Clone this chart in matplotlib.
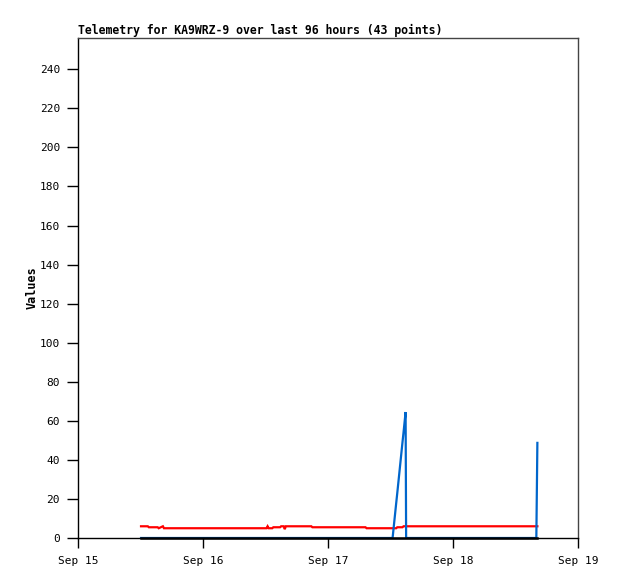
import datetime as dt
import matplotlib
matplotlib.use('Agg')
import matplotlib.pyplot as plt
import matplotlib.dates as mdates

plt.rcParams['font.family'] = ['DejaVu Sans Mono']
plt.rcParams['font.size'] = 8

# hours after Sep 15 00:00 for each of the 43 telemetry packets
hours = [12.1, 13.4, 13.6, 15.3, 15.5, 16.3, 16.5, 20.0, 24.0, 28.0,
         32.0, 36.2, 36.4, 36.6, 37.3, 37.5, 38.8, 39.0, 39.5, 39.7,
         39.9, 44.8, 45.0, 48.0, 52.0, 55.2, 55.4, 58.0, 60.4, 61.1,
         61.3, 62.3, 62.5, 62.9, 63.0, 66.0, 70.0, 74.0, 78.0, 82.0,
         86.0, 88.0, 88.2]

ch_red = [6.0, 6.0, 5.5, 5.5, 5.0, 6.0, 5.0, 5.0, 5.0, 5.0,
          5.0, 5.0, 6.0, 5.0, 5.0, 5.5, 5.5, 6.0, 6.0, 4.5,
          6.0, 6.0, 5.5, 5.5, 5.5, 5.5, 5.0, 5.0, 5.0, 5.0,
          5.5, 5.5, 6.0, 6.0, 6.0, 6.0, 6.0, 6.0, 6.0, 6.0,
          6.0, 6.0, 6.0]

ch_blue = [0, 0, 0, 0, 0, 0, 0, 0, 0, 0,
           0, 0, 0, 0, 0, 0, 0, 0, 0, 0,
           0, 0, 0, 0, 0, 0, 0, 0, 0, 18,
           23, 49, 54, 64.5, 0, 0, 0, 0, 0, 0,
           0, 0, 48.7]

ch_black = [0] * len(hours)

start = dt.datetime(2024, 9, 15)
times = [start + dt.timedelta(hours=h) for h in hours]

fig = plt.figure(figsize=(6.18, 5.79), dpi=100)
ax = fig.add_axes([78 / 618, 41 / 579, 500 / 618, 500 / 579])

ax.plot(times, ch_red, color='#ff0000', lw=1.6, solid_joinstyle='miter', zorder=3)
ax.plot(times, ch_blue, color='#0066cc', lw=1.6, solid_joinstyle='miter', zorder=4)
ax.plot(times, ch_black, color='black', lw=1.8, zorder=5, clip_on=False)

ax.set_xlim(start, start + dt.timedelta(days=4))
ax.set_ylim(0, 256)
ax.set_yticks(range(0, 241, 20))
ax.xaxis.set_major_locator(mdates.DayLocator())
ax.xaxis.set_major_formatter(mdates.DateFormatter('%b %d'))

for s in ['top', 'right']:
    ax.spines[s].set_color('#444444')
for s in ['left', 'bottom']:
    ax.spines[s].set_color('black')
for s in ax.spines.values():
    s.set_linewidth(1.0)

ax.tick_params(axis='y', direction='out', length=8, width=1, pad=5)
ax.tick_params(axis='x', direction='out', length=7, width=1, pad=6)

ax.set_ylabel('Values', fontweight='bold', fontsize=8.5, labelpad=1)
ax.set_title('Telemetry for KA9WRZ-9 over last 96 hours (43 points)',
             loc='left', fontweight='bold', fontsize=8.3, pad=3)

fig.savefig('out.png', dpi=100, facecolor='white')
